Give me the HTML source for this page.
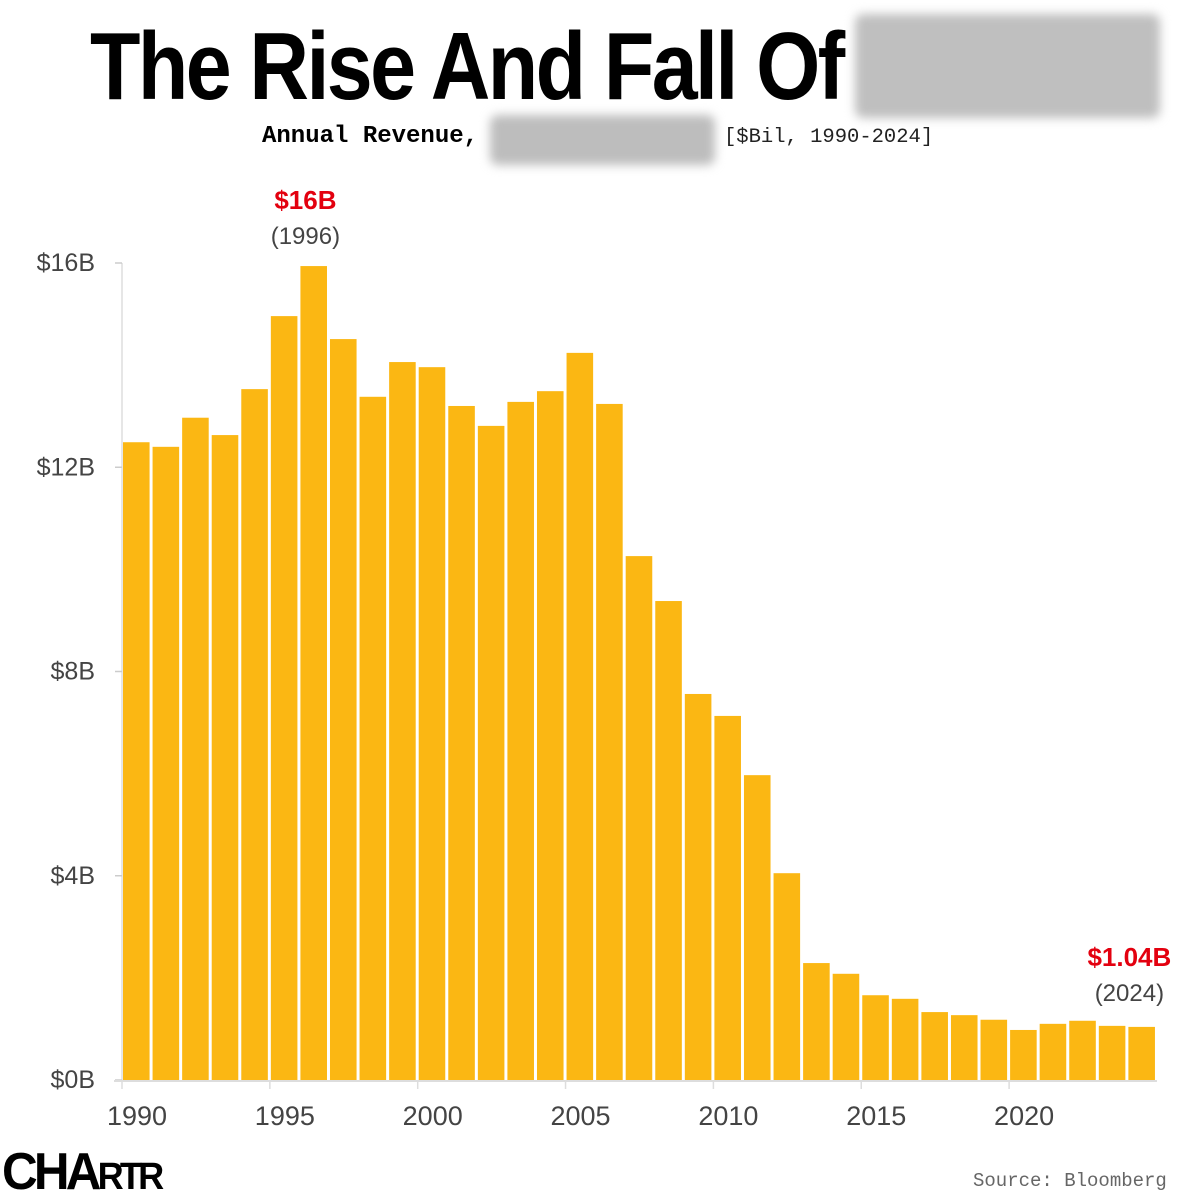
<!DOCTYPE html>
<html><head><meta charset="utf-8"><style>
html,body{margin:0;padding:0;background:#fff;width:1199px;height:1199px;overflow:hidden;position:relative}
.t{position:absolute;white-space:nowrap}
</style></head><body>
<div class="t" style="left:90px;top:12px;font:bold 96px 'Liberation Sans Narrow','Liberation Sans',sans-serif;letter-spacing:-3px;transform:scaleX(0.86);transform-origin:left top;color:#000">The Rise And Fall Of</div>
<div style="position:absolute;left:855px;top:14px;width:305px;height:104px;background:#bfbfbf;filter:blur(5px);border-radius:8px"></div>
<div class="t" style="left:262px;top:123px;font:bold 24px 'Liberation Mono',monospace;color:#000">Annual Revenue,</div>
<div style="position:absolute;left:490px;top:115px;width:225px;height:50px;background:#bdbdbd;filter:blur(5px);border-radius:8px"></div>
<div class="t" style="left:724px;top:126px;font:20.5px 'Liberation Mono',monospace;color:#222">[$Bil, 1990-2024]</div>
<svg id="chart" width="1199" height="1199" style="position:absolute;left:0;top:0"></svg>
<div class="t" style="left:2px;top:1142px;font:bold 52px 'Liberation Sans Narrow','Liberation Sans',sans-serif;letter-spacing:-4px;color:#000;transform:scaleX(0.95);transform-origin:left top">CHA<span style="font-size:38px">RTR</span></div>
<div class="t" style="left:973px;top:1170px;font:19px 'Liberation Mono',monospace;color:#666">Source: Bloomberg</div>
<script>
const years=[1990,1991,1992,1993,1994,1995,1996,1997,1998,1999,2000,2001,2002,2003,2004,2005,2006,2007,2008,2009,2010,2011,2012,2013,2014,2015,2016,2017,2018,2019,2020,2021,2022,2023,2024];
const revenue=[12.49,12.40,12.97,12.63,13.53,14.96,15.94,14.51,13.38,14.06,13.96,13.20,12.81,13.28,13.49,14.24,13.24,10.26,9.38,7.56,7.13,5.97,4.05,2.29,2.08,1.66,1.59,1.33,1.27,1.18,0.98,1.10,1.16,1.06,1.04];
const yTicks=[0,4,8,12,16];
const yTickLabels=["$0B","$4B","$8B","$12B","$16B"];
const xTicks=[1990,1995,2000,2005,2010,2015,2020];
const svg=document.getElementById('chart');
const NS='http://www.w3.org/2000/svg';
const x0=122,pitch=29.57,yBase=1080,yTop=263,yMax=16;
const X=yr=>x0+(yr-years[0])*pitch;
const Y=v=>yBase-(v/yMax)*(yBase-yTop);
function mk(tag,attrs){const e=document.createElementNS(NS,tag);for(const k in attrs)e.setAttribute(k,attrs[k]);svg.appendChild(e);return e;}
let ya=mk('line',{x1:x0,x2:x0,y1:Y(16),y2:yBase,stroke:'#ddd','stroke-width':1.5});


yTicks.forEach((v,i)=>{
  const tk=mk('line',{x1:x0-7,x2:x0,y1:Y(v),y2:Y(v),stroke:'#ccc','stroke-width':1.5});
  
  
  const t=mk('text',{x:x0-27,y:Y(v)+8,'text-anchor':'end','font-family':'Liberation Sans Narrow, Liberation Sans, sans-serif','font-size':25,fill:'#444'});
  t.textContent=yTickLabels[i];
  
  
});
years.forEach((yr,i)=>{
  const r=mk('rect',{x:X(yr)+1,y:Y(revenue[i]),width:pitch-3,height:yBase-Y(revenue[i]),fill:'#fbb713'});
  
  
});
let xa=mk('line',{x1:x0-8,x2:X(2024)+pitch,y1:yBase+1,y2:yBase+1,stroke:'#ddd','stroke-width':2});


xTicks.forEach(yr=>{
  const tk=mk('line',{x1:X(yr),x2:X(yr),y1:yBase,y2:yBase+9,stroke:'#ddd','stroke-width':1.5});
  
  
  const t=mk('text',{x:X(yr)+15,y:1125,'text-anchor':'middle','font-family':'Liberation Sans, sans-serif','font-size':27,fill:'#444'});
  t.textContent=yr;
  
  
});
function annot(idx,dy,dx,name){
  const cx=X(years[idx])+dx;
  const a=mk('text',{x:cx,y:Y(revenue[idx])+dy,'text-anchor':'middle','font-family':'Liberation Sans Narrow, Liberation Sans, sans-serif','font-weight':'bold','font-size':26,fill:'#e3000f'});
  a.textContent='$'+(revenue[idx]>=10?Math.round(revenue[idx]):revenue[idx].toFixed(2))+'B';
  
  
  const b=mk('text',{x:cx,y:Y(revenue[idx])+dy+35,'text-anchor':'middle','font-family':'Liberation Sans, sans-serif','font-size':24,fill:'#444'});
  b.textContent='('+years[idx]+')';
  
  
}
annot(6,-57,6,'peak-annotation');
annot(34,-61,2,'latest-annotation');
</script>
</body></html>
